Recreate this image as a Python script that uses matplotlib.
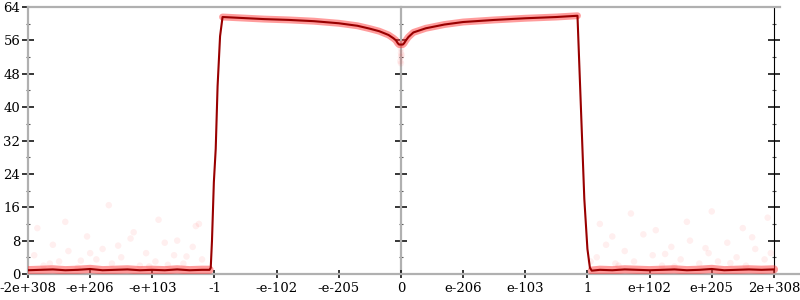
"""
curve of a float-function sweep, symmetric index axis
"""
import matplotlib.pyplot as plt

x_ticks = [-6, -5, -4, -3, -2, -1, 0, 1, 2, 3, 4, 5, 6]
x_labels = ["-2e+308", "-e+206", "-e+103", "-1", "-e-102", "-e-205", "0",
            "e-206", "e-103", "1", "e+102", "e+205", "2e+308"]

# mean curve (index position, value)
curve_x = [-6.0, -5.8, -5.6, -5.4, -5.2, -5.0, -4.8, -4.6, -4.4, -4.2, -4.0,
           -3.8, -3.6, -3.4, -3.2, -3.08, -3.06, -3.04, -3.01, -2.98, -2.95,
           -2.91, -2.87, -2.6, -2.2, -1.8, -1.4, -1.0, -0.7, -0.5, -0.35, -0.2,
           -0.12, -0.08, -0.05, -0.03, 0.0, 0.03, 0.05, 0.08, 0.12, 0.2, 0.4,
           0.7, 1.0, 1.5, 2.0, 2.5, 2.84, 2.89, 2.95, 3.0, 3.04, 3.07, 3.2,
           3.4, 3.6, 3.8, 4.0, 4.2, 4.4, 4.6, 4.8, 5.0, 5.2, 5.4, 5.6, 5.8, 6.0]
curve_y = [0.9, 1.0, 1.1, 0.9, 1.0, 1.2, 0.9, 1.0, 1.1, 0.9, 1.0,
           0.9, 1.1, 0.9, 1.0, 1.0, 1.5, 8.0, 22.0, 30.0, 45.0,
           57.0, 61.6, 61.4, 61.1, 60.9, 60.6, 60.1, 59.5, 58.8, 58.2, 57.3,
           56.5, 56.0, 55.3, 55.0, 55.0, 55.0, 55.3, 56.0, 56.8, 57.9, 58.9,
           59.8, 60.4, 60.9, 61.3, 61.6, 61.9, 42.0, 18.0, 6.0, 1.5, 0.8, 1.0,
           0.9, 1.1, 1.0, 0.9, 1.0, 1.1, 0.9, 1.0, 1.2, 0.9, 1.0, 1.1, 1.0, 1.1]

# sparse raw samples
scatter_x = [-5.9, -5.75, -5.6, -5.5, -5.35, -5.2, -5.05, -4.9, -4.8, -4.65,
             -4.5, -4.35, -4.2, -4.1, -3.95, -3.8, -3.65, -3.5, -3.35, -3.2,
             -5.85, -5.4, -5.0, -4.7, -4.3, -3.9, -3.6, -3.3, -5.65, -4.05,
             -3.45, -5.15, -4.55, -3.75, -3.25,
             3.15, 3.3, 3.45, 3.6, 3.75, 3.9, 4.05, 4.2, 4.35, 4.5,
             4.65, 4.8, 4.95, 5.1, 5.25, 5.4, 5.55, 5.7, 5.85, 5.95,
             3.2, 3.7, 4.1, 4.6, 5.0, 5.5, 5.9, 3.5, 4.4, 5.3,
             3.05, 3.4, 4.9, 5.65, 4.25,
             0.0, 0.0, 0.0, -0.01, 0.01, 0.0]
scatter_y = [4.5, 2.0, 7.0, 3.0, 5.5, 1.5, 9.0, 3.5, 6.0, 2.5,
             4.0, 8.5, 2.0, 5.0, 3.0, 7.5, 4.5, 2.5, 6.5, 3.5,
             11.0, 12.5, 5.0, 16.5, 10.0, 13.0, 8.0, 11.5, 2.5, 1.8,
             4.2, 3.2, 6.8, 2.2, 12.0,
             4.0, 7.0, 2.5, 5.5, 3.0, 9.5, 4.5, 2.0, 6.5, 3.5,
             8.0, 2.5, 5.0, 3.0, 7.5, 4.0, 2.0, 6.0, 3.5, 5.0,
             12.0, 14.5, 10.5, 12.5, 15.0, 11.0, 13.5, 2.0, 1.8, 2.6,
             3.0, 9.0, 6.2, 8.8, 4.8,
             54.0, 53.0, 52.0, 51.0, 52.5, 50.5]

fig = plt.figure(figsize=(8, 3), dpi=100)
ax = fig.add_axes([28 / 800, 26 / 300, 772 / 800, 267 / 300])

ax.scatter(scatter_x, scatter_y, s=22, color="#ff2020", alpha=0.07,
           edgecolors="none", zorder=2)
# dense samples sit on the plateaus only
for a, b, w in [(0, 16, 6), (22, 49, 5), (53, len(curve_x), 6)]:
    ax.plot(curve_x[a:b], curve_y[a:b], "-", color="#ff3b3b", alpha=0.5,
            lw=w, solid_capstyle="round", zorder=3)
ax.plot(curve_x, curve_y, "-", color="#990000", lw=1.5, zorder=4)

ax.set_xlim(-6, 6.42)
ax.set_ylim(0, 64)

gray = "#b0b0b0"
for s in ["top", "right"]:
    ax.spines[s].set_visible(False)
ax.spines["left"].set_color(gray)
ax.spines["bottom"].set_color(gray)
ax.spines["left"].set_linewidth(1.6)
ax.spines["bottom"].set_linewidth(1.6)
ax.axhline(64, xmin=0, xmax=12.1 / 12.42, color=gray, lw=1.6, clip_on=False)

ax.set_xticks(x_ticks)
ax.set_xticklabels(x_labels, family="DejaVu Serif", fontsize=9.5)
ax.set_yticks(range(0, 65, 8))
ax.set_yticks(range(4, 64, 8), minor=True)
ax.tick_params(axis="y", which="major", direction="inout", length=9,
               width=1.1, labelsize=9.5, pad=1)
ax.tick_params(axis="y", which="minor", direction="inout", length=3.5,
               width=0.8, color="#555555")
ax.tick_params(axis="x", direction="inout", length=6, width=1.1, pad=3)
for lab in ax.get_yticklabels():
    lab.set_family("DejaVu Serif")

for loc in [6 / 12.42, 12 / 12.42]:
    sec = ax.secondary_yaxis(loc)
    sec.spines["left"].set_color(gray)
    sec.spines["left"].set_linewidth(1.6)
    sec.set_yticks(range(0, 65, 8))
    sec.set_yticks(range(4, 64, 8), minor=True)
    sec.tick_params(axis="y", which="major", direction="inout", length=9,
                    width=1.1, labelleft=False, labelright=False)
    sec.tick_params(axis="y", which="minor", direction="inout", length=3.5,
                    width=0.8, color="#555555")

fig.savefig("out.png", dpi=100)
